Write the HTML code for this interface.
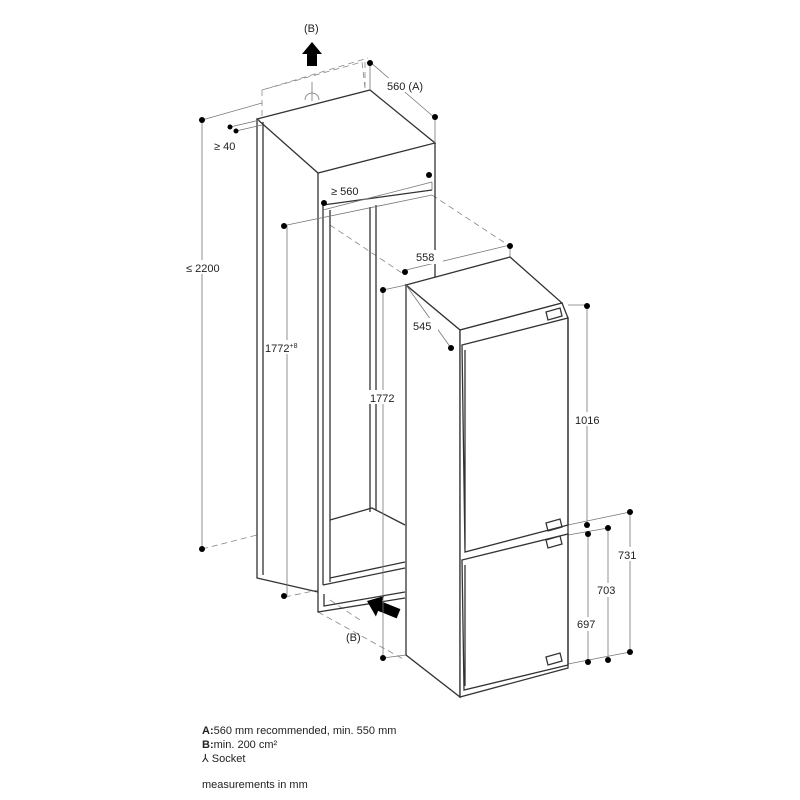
<!DOCTYPE html>
<html><head><style>
body{margin:0;background:#fff;width:800px;height:800px;overflow:hidden}
svg{position:absolute;left:0;top:0}
text{font-family:"Liberation Sans",sans-serif;font-size:11px;fill:#222}
.l{stroke:#333;stroke-width:1.3;fill:none}
.w{stroke:#333;stroke-width:1.3;fill:#fff}
.t{stroke:#777;stroke-width:0.8;fill:none}
.d{stroke:#888;stroke-width:0.8;fill:none;stroke-dasharray:6,4}
</style></head><body>
<svg width="800" height="800" viewBox="0 0 800 800">
<!-- dashed box on top -->
<path class="d" d="M262,116 L262,90 L362,62 L365,88 M262,90 L368,58 M365,62 L365,88"/>
<path class="t" d="M312,101 L312,82 M305,100 a7,7 0 0 1 14,0"/>
<polygon points="312,42 322,54 317,54 317,66 307,66 307,54 302,54" fill="#000"/>
<text x="304" y="32">(B)</text>
<!-- housing -->
<path class="d" d="M330,225 L405,275 M432,195 L505,243 M202,549 L257,535 M285,597 L318,590 M318,612 L405,660 M330,600 L360,620"/>
<polygon class="w" points="257,119 370,90 435,143 318,173"/>
<path class="l" d="M257,119 L257,578 L318,592 M263,122 L263,575 M318,173 L318,592 M435,143 L435,400"/>
<path class="l" d="M323,205 L432,190 M323,205 L323,585 M330,210 L330,582 M370,207 L370,512 M376,205 L376,510 M330,520 L372,508 L405,525 M323,585 L405,568 M330,578 L405,562"/>
<path class="l" d="M318,592 L318,612 L405,598 M324,594 L324,606 L405,592"/>
<polygon points="0,0 14,-11 14,-5 34,-5 34,5 14,5 14,11" fill="#000" transform="translate(367,601) rotate(22)"/>
<text x="346" y="641">(B)</text>
<!-- dimension lines -->
<g class="t">
<path d="M202,120 L262,103 M202,120 L202,549 M230,127 L260,120 M236,131 L262,125"/>
<path d="M370,90 L370,62 M370,62 L435,118 M435,118 L435,143"/>
<path d="M287,225 L287,596 M287,225 L432,195 M323,210 L432,182 M432,182 L432,190"/>
<path d="M406,270 L510,245 M510,245 L510,257 M383,290 L406,285 M383,290 L383,658 M383,658 L406,655"/>
<path d="M587,305 L587,525 M568,305 L587,305 M568,525 L630,512 M588,535 L588,662 M608,530 L608,660 M630,512 L630,652 M568,664 L630,652 M568,535 L608,528"/>
</g>
<!-- fridge -->
<polygon class="w" points="406,285 510,257 562,303 460,330"/>
<polygon class="w" points="406,285 460,330 460,697 406,655"/>
<polygon class="w" points="460,330 562,303 568,318 568,668 460,697"/>
<path class="t" d="M406,285 L451,348"/>
<path class="l" d="M462,345 L568,318 L568,525 L465,552 Z M465,350 L465,548 M546,312 L560,308 L562,316 L548,320 Z"/>
<path class="l" d="M462,560 L568,534 L568,665 L464,690 Z M465,565 L465,686 M546,540 L560,536 L562,544 L548,548 Z M546,523 L560,519 L562,527 L548,531 Z M546,657 L560,653 L562,661 L548,665 Z"/>
<g fill="#000">
<circle cx="202" cy="120" r="3"/><circle cx="202" cy="549" r="3"/>
<circle cx="230" cy="127" r="2.5"/><circle cx="236" cy="131" r="2.5"/>
<circle cx="370" cy="63" r="3"/><circle cx="435" cy="117" r="3"/>
<circle cx="324" cy="203" r="3"/><circle cx="429" cy="175" r="3"/><circle cx="284" cy="226" r="3"/><circle cx="284" cy="596" r="3"/>
<circle cx="405" cy="272" r="3"/><circle cx="510" cy="246" r="3"/><circle cx="383" cy="290" r="3"/><circle cx="383" cy="658" r="3"/>
<circle cx="451" cy="348" r="3"/>
<circle cx="587" cy="306" r="3"/><circle cx="587" cy="525" r="3"/><circle cx="588" cy="534" r="3"/><circle cx="588" cy="662" r="3"/>
<circle cx="608" cy="528" r="3"/><circle cx="608" cy="660" r="3"/><circle cx="630" cy="512" r="3"/><circle cx="630" cy="652" r="3"/>
</g>
<g>
<rect x="384" y="78" width="50" height="14" fill="#fff"/><text x="387" y="90">560 (A)</text>
<rect x="212" y="138" width="30" height="14" fill="#fff"/><text x="214" y="150">≥ 40</text>
<rect x="184" y="260" width="46" height="14" fill="#fff"/><text x="186" y="272">≤ 2200</text>
<rect x="328" y="183" width="40" height="14" fill="#fff"/><text x="331" y="195">≥ 560</text>
<rect x="264" y="340" width="48" height="14" fill="#fff"/><text x="265" y="352">1772<tspan font-size="7" dy="-4">+8</tspan></text>
<rect x="367" y="390" width="34" height="14" fill="#fff"/><text x="370" y="402">1772</text>
<rect x="413" y="250" width="30" height="14" fill="#fff"/><text x="416" y="261">558</text>
<rect x="410" y="318" width="28" height="14" fill="#fff"/><text x="413" y="330">545</text>
<rect x="573" y="412" width="32" height="14" fill="#fff"/><text x="575" y="424">1016</text>
<rect x="616" y="547" width="28" height="14" fill="#fff"/><text x="618" y="559">731</text>
<rect x="595" y="583" width="28" height="14" fill="#fff"/><text x="597" y="594">703</text>
<rect x="575" y="617" width="28" height="14" fill="#fff"/><text x="577" y="628">697</text>
</g>
<text x="202" y="734"><tspan font-weight="bold">A:</tspan>560 mm recommended, min. 550 mm</text>
<text x="202" y="748"><tspan font-weight="bold">B:</tspan>min. 200 cm²</text>
<text x="202" y="762">⅄ Socket</text>
<text x="202" y="788">measurements in mm</text>
</svg>
</body></html>
